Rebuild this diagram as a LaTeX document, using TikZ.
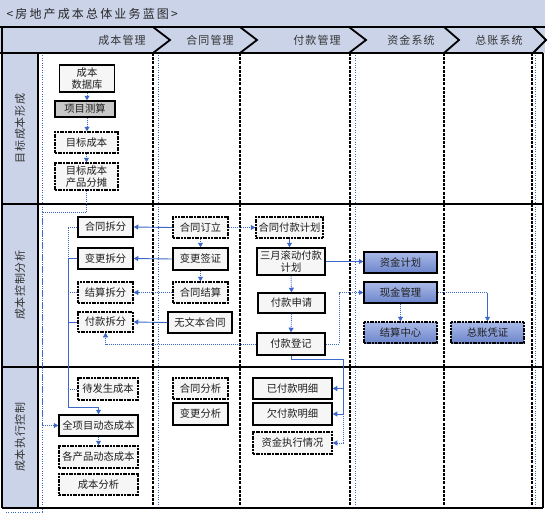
\documentclass[tikz,border=0pt]{standalone}
\usepackage{fontspec}
\setmainfont{Noto Sans CJK SC}
\newfontfamily\headfont[LetterSpace=10]{Noto Sans CJK SC}
\newfontfamily\titlefont[LetterSpace=18]{Noto Sans CJK SC}
\newfontfamily\lanefont[LetterSpace=6]{Noto Sans CJK SC}
\usetikzlibrary{arrows.meta}
\definecolor{lanebg}{RGB}{202,211,232}
\definecolor{conn}{RGB}{60,105,200}
\definecolor{boxbg}{RGB}{246,246,246}
\definecolor{graybg}{RGB}{200,200,200}
\definecolor{txt}{RGB}{30,30,30}
\definecolor{bluetop}{RGB}{170,185,232}
\definecolor{bluebot}{RGB}{108,134,203}
\tikzset{
  bx/.style={draw=black, line width=1.5pt, fill=boxbg, inner sep=0pt, align=center,
    font=\fontsize{10.3}{12}\selectfont, text=txt},
  dbx/.style={bx, dash pattern=on 2pt off 0.7pt},
  gbx/.style={bx, fill=graybg},
  bbx/.style={bx, top color=bluetop, bottom color=bluebot},
  dbbx/.style={bbx, dash pattern=on 2pt off 0.7pt},
  cs/.style={draw=conn, line width=0.9pt},
  cd/.style={cs, dash pattern=on 1pt off 1pt},
  tip/.style={-{Triangle[length=4.5pt,width=5pt]}},
  frame/.style={draw=black, line width=2pt},
  coldash/.style={draw=black, line width=1.6pt, dash pattern=on 3pt off 1.2pt},
  lanedot/.style={draw=conn, line width=0.6pt, dash pattern=on 0.8pt off 1.6pt},
  chev/.style={draw=black, line width=1.8pt, line join=miter},
  headtxt/.style={font=\headfont\fontsize{11}{13}\selectfont, text=black!80},
  lanetxt/.style={font=\lanefont\fontsize{11}{13}\selectfont, text=black!80, rotate=90}
}
\begin{document}
\begin{tikzpicture}[x={(1pt,0)}, y={(0,-1pt)}]
\useasboundingbox (0,0) rectangle (552,514);
% backgrounds
\fill[lanebg] (0,0) rectangle (545,27);
\fill[lanebg] (0,27) rectangle (545,53);
\fill[white] (38,53) rectangle (543,508);
\fill[lanebg] (2,53) rectangle (38,508);
% title and header
\node[anchor=west, font=\titlefont\fontsize{12}{14}\selectfont, text=black!85] (title) at (3,14) {<房地产成本总体业务蓝图>};
\node[headtxt] (h-cb) at (122,40) {成本管理};
\node[headtxt] (h-ht) at (210,40) {合同管理};
\node[headtxt] (h-fk) at (317,40) {付款管理};
\node[headtxt] (h-zj) at (411,40) {资金系统};
\node[headtxt] (h-zz) at (499,40) {总账系统};
\draw[chev] (153,27) -- (170,40) -- (153,53);
\draw[chev] (240,27) -- (257,40) -- (240,53);
\draw[chev] (349,27) -- (366,40) -- (349,53);
\draw[chev] (444,27) -- (459,40) -- (444,53);
\draw[chev] (533,27) -- (546,40) -- (533,53);
% lane labels
\node[lanetxt] (l1) at (20,128.5) {目标成本形成};
\node[lanetxt] (l2) at (20,285) {成本控制分析};
\node[lanetxt] (l3) at (20,437) {成本执行控制};
% column lines
\foreach \x in {153,240,350,444,532} \draw[coldash] (\x,53) -- (\x,508);
\foreach \x in {158,355,535} \draw[lanedot] (\x,53) -- (\x,508);
\draw[lanedot] (42,53) -- (42,512) -- (5,512);
% frame
\draw[frame] (0,27) -- (545,27);
\draw[frame] (0,53) -- (543,53);
\draw[frame] (2,204) -- (543,204);
\draw[frame] (2,367) -- (543,367);
\draw[frame] (2,508) -- (543,508);
\draw[frame] (2,27) -- (2,508);
\draw[frame] (38,53) -- (38,508);
\draw[frame] (543,53) -- (543,508);
% row 1
\node[bx, minimum width=55pt, minimum height=27pt] (n1) at (87,78.5) {成本\\数据库};
\node[gbx, minimum width=60pt, minimum height=16pt] (n2) at (85,109) {项目测算};
\node[dbx, minimum width=63pt, minimum height=21pt] (n3) at (86.5,142.5) {目标成本};
\node[dbx, minimum width=63pt, minimum height=27pt] (n4) at (86.5,176.5) {目标成本\\产品分摊};
% row 2
\node[bx, minimum width=55pt, minimum height=20pt] (c1) at (105.5,227) {合同拆分};
\node[bx, minimum width=55pt, minimum height=21pt] (c2) at (105.5,258.5) {变更拆分};
\node[dbx, minimum width=55pt, minimum height=21pt] (c3) at (105.5,292.5) {结算拆分};
\node[dbx, minimum width=55pt, minimum height=20pt] (c4) at (105.5,322) {付款拆分};
\node[dbx, minimum width=55pt, minimum height=21pt] (d1) at (200.5,227.5) {合同订立};
\node[bx, minimum width=55pt, minimum height=22pt] (d2) at (200.5,259) {变更签证};
\node[dbx, minimum width=55pt, minimum height=21pt] (d3) at (200.5,292.5) {合同结算};
\node[bx, minimum width=64pt, minimum height=21pt] (d4) at (200,322.5) {无文本合同};
\node[dbx, minimum width=67pt, minimum height=21pt] (e1) at (289.5,227.5) {合同付款计划};
\node[bx, minimum width=68pt, minimum height=27pt] (e2) at (291,261.5) {三月滚动付款\\计划};
\node[bx, minimum width=67pt, minimum height=20pt] (e3) at (291.5,303) {付款申请};
\node[bx, minimum width=68pt, minimum height=22pt] (e4) at (291,344) {付款登记};
\node[bbx, minimum width=73pt, minimum height=21pt] (f1) at (400.5,262.5) {资金计划};
\node[bbx, minimum width=73pt, minimum height=21pt] (f2) at (400.5,292.5) {现金管理};
\node[dbbx, minimum width=73pt, minimum height=21pt] (f3) at (400.5,332.5) {结算中心};
\node[dbbx, minimum width=73pt, minimum height=21pt] (g1) at (487.5,332.5) {总账凭证};
% row 3
\node[dbx, minimum width=60pt, minimum height=22pt] (h1) at (108,389) {待发生成本};
\node[bx, minimum width=79pt, minimum height=21pt] (h2) at (98.5,425.5) {全项目动态成本};
\node[dbx, minimum width=79pt, minimum height=22pt] (h3) at (98.5,457) {各产品动态成本};
\node[dbx, minimum width=79pt, minimum height=21pt] (h4) at (98.5,484.5) {成本分析};
\node[dbx, minimum width=55pt, minimum height=21pt] (i1) at (200.5,388.5) {合同分析};
\node[bx, minimum width=55pt, minimum height=22pt] (i2) at (200.5,414) {变更分析};
\node[bx, minimum width=79pt, minimum height=21pt] (j1) at (292.5,388.5) {已付款明细};
\node[bx, minimum width=79pt, minimum height=22pt] (j2) at (292.5,414) {欠付款明细};
\node[dbx, minimum width=79pt, minimum height=22pt] (j3) at (292.5,443) {资金执行情况};
% helper coordinates
\coordinate (k1) at (42,212);
\coordinate (bus) at (68,0);
\coordinate (k2) at (68,407);
\coordinate (k3) at (339,0);
\coordinate (k4) at (343,359);
% row 1 connectors
\draw[cd,tip] (n1.south) -- (n1.south |- n2.north);
\draw[cd,tip] (n1.south |- n2.south) -- (n1.south |- n3.north);
\draw[cd,tip] (n3.south) -- (n4.north);
\draw[cd,tip] (n4.south) |- (k1) |- (h2.west);
% bus on the left
\draw[cd] (c1.west) -- (c1.west -| bus) -- (c2.west -| bus);
\draw[cs] (c2.west) -- (c2.west -| bus);
\draw[cd] (c3.west) -- (c3.west -| bus);
\draw[cs] (c4.west) -- (c4.west -| bus);
\draw[cd] (h1.west) -- (h1.west -| bus);
\draw[cs,tip] (c2.west -| bus) -- (k2) -| (h2.north);
% row 2 connectors
\draw[cs,tip] (d1.west) -- (c1.east);
\draw[cs,tip] (d2.west) -- (c2.east);
\draw[cd,tip] (d3.west) -- (c3.east);
\draw[cs,tip] (d4.west) -- (c4.east);
\draw[cd,tip] (d1.south) -- (d2.north);
\draw[cd,tip] (d2.south) -- (d3.north);
\draw[cd,tip] (d1.east) -- (e1.west);
\draw[cs,tip] (e1.south) -- (e1.south |- e2.north);
\draw[cd,tip] (e2.south) -- (e3.north);
\draw[cd,tip] (e3.south) -- (e4.north);
\draw[cs,tip] (e2.east) -- (e2.east -| f1.west);
\draw[cd,tip] (e4.east) -- (e4.east -| k3) -- (k3 |- f2.west) -- (f2.west);
\draw[cd,tip] (e4.west) -| (c4.south);
\draw[cd,tip] (f2.south) -- (f3.north);
\draw[cd] (f2.east) -- (f2.east -| g1.north);
\draw[cs,tip] (f2.east -| g1.north) -- (g1.north);
% row 3 connectors
\draw[cs] (e4.south) |- (k4);
\draw[cs,tip] (k4) |- (j1.east);
\draw[cs,tip] (k4) |- (j2.east);
\draw[cd,tip] (k4 |- j2.east) |- (j3.east);
\draw[cd,tip] (h2.south) -- (h3.north);
\end{tikzpicture}
\end{document}
